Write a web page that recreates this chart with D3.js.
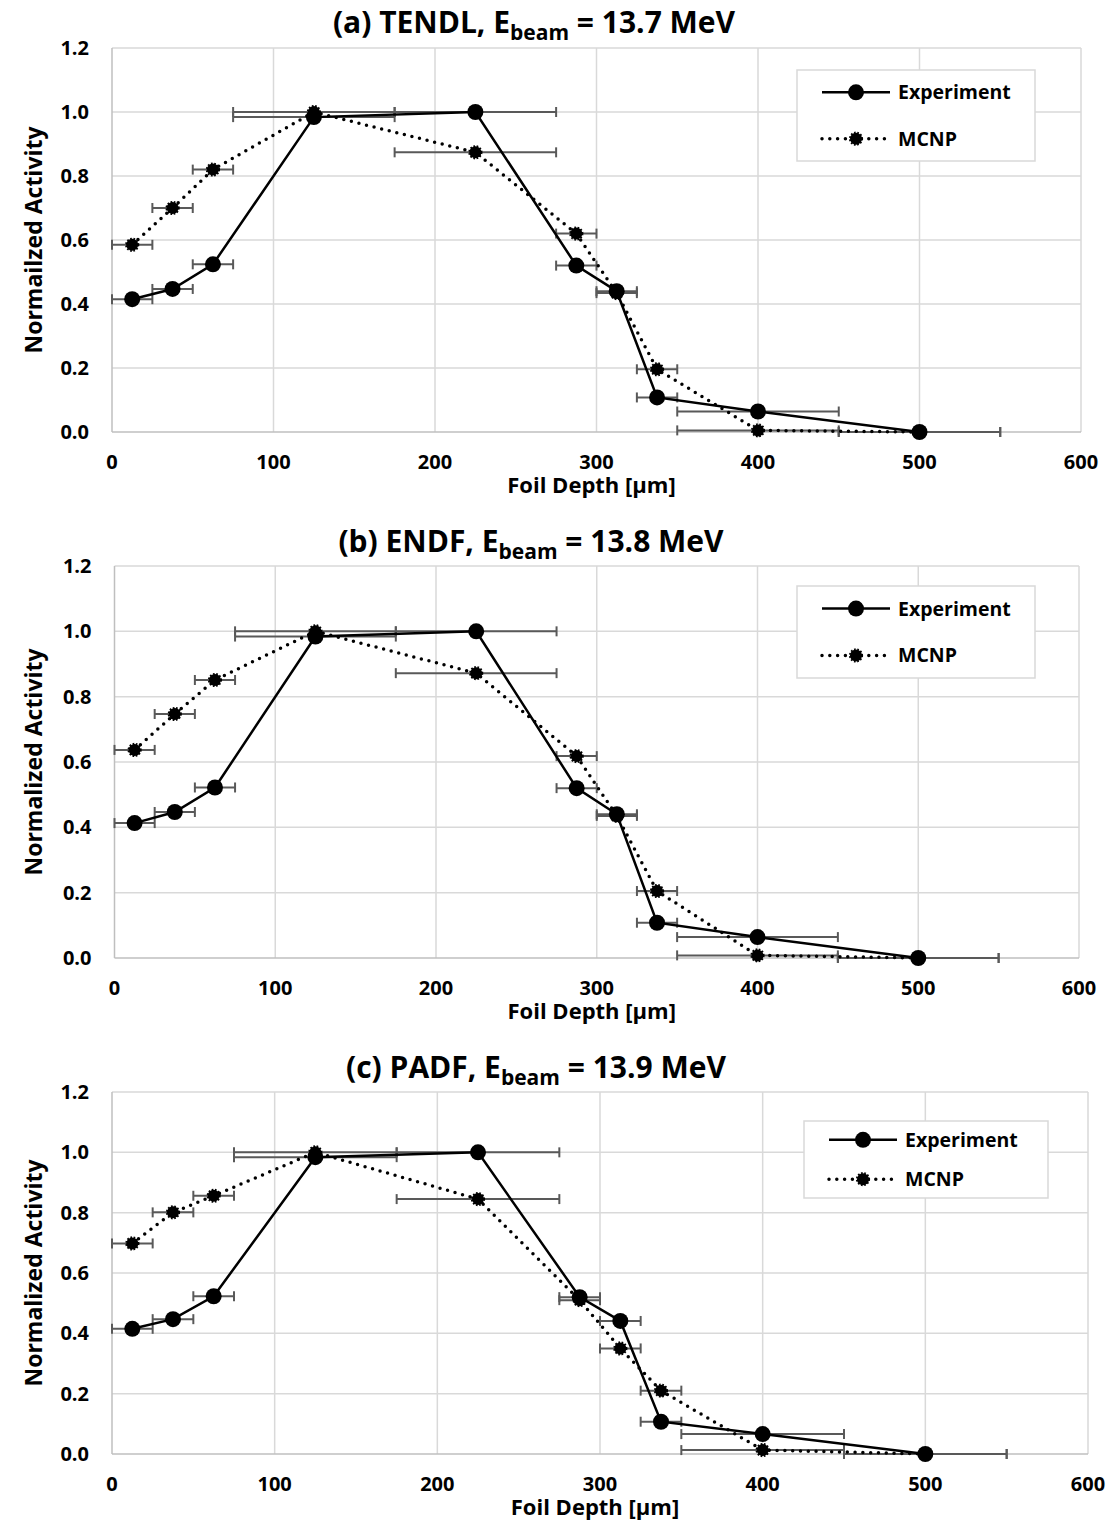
<!DOCTYPE html>
<html><head><meta charset="utf-8">
<script src="https://cdn.jsdelivr.net/npm/d3@7"></script>
<style>body{margin:0;background:#fff;} text{font-family:"Open Sans",sans-serif;font-weight:bold;fill:#000;}</style>
</head><body>
<svg id="c" width="1107" height="1521"></svg>
<script>
// ---- data ----
const depth = [12.5, 37.5, 62.5, 125, 225, 287.5, 312.5, 337.5, 400, 500];
const depthErr = [12.5, 12.5, 12.5, 50, 50, 12.5, 12.5, 12.5, 50, 50];
const expA  = [0.415, 0.447, 0.524, 0.984, 1.0, 0.520, 0.440, 0.108, 0.064, 0.0];
const mcnpA = [0.585, 0.700, 0.820, 1.0, 0.874, 0.620, 0.434, 0.196, 0.005, 0.0];
const expB  = [0.413, 0.447, 0.522, 0.984, 1.0, 0.520, 0.440, 0.108, 0.064, 0.0];
const mcnpB = [0.637, 0.747, 0.851, 1.0, 0.872, 0.618, 0.435, 0.205, 0.008, 0.0];
const expC  = [0.415, 0.447, 0.523, 0.984, 1.0, 0.520, 0.441, 0.107, 0.066, 0.0];
const mcnpC = [0.698, 0.801, 0.856, 1.0, 0.845, 0.510, 0.350, 0.210, 0.013, 0.0];
const xTicks = [0, 100, 200, 300, 400, 500, 600];
const yTicks = [0, 0.2, 0.4, 0.6, 0.8, 1.0, 1.2];
const titlePre = ["(a) TENDL, E", "(b) ENDF, E", "(c) PADF, E"];
const titleSub = "beam";
const titlePost = [" = 13.7 MeV", " = 13.8 MeV", " = 13.9 MeV"];
const yTitles = ["Normailzed Activity", "Normalized Activity", "Normalized Activity"];
const xTitle = "Foil Depth [µm]";
const seriesNames = ["Experiment", "MCNP"];

// ---- layout ----
const panels = [
  {exp: expA, mcnp: mcnpA, x0: 112, x1: 1081, yTop: 48, yBot: 432, titleX: 534, titleY: 33,
   legend: {x: 797, y: 70, w: 238, h: 91}},
  {exp: expB, mcnp: mcnpB, x0: 114.5, x1: 1079, yTop: 566, yBot: 958, titleX: 531, titleY: 552,
   legend: {x: 797, y: 586, w: 238, h: 92}},
  {exp: expC, mcnp: mcnpC, x0: 112, x1: 1088, yTop: 1092, yBot: 1454, titleX: 536, titleY: 1078,
   legend: {x: 804, y: 1121, w: 244, h: 77}}
];

const svg = d3.select("#c");
const gridCol = "#d9d9d9", axisCol = "#bfbfbf", errCol = "#595959";

function mcnpMarker(sel, r) {
  sel.attr("r", r).attr("fill", "#000").attr("stroke", "#000")
    .attr("stroke-width", 2.2).attr("stroke-dasharray", "1.6,1.6");
}

panels.forEach((p, i) => {
  const g = svg.append("g");
  const x = d3.scaleLinear().domain([0, 600]).range([p.x0, p.x1]);
  const y = d3.scaleLinear().domain([0, 1.2]).range([p.yBot, p.yTop]);

  // grid
  g.selectAll(".vg").data(xTicks.slice(1)).join("line")
    .attr("x1", d => x(d)).attr("x2", d => x(d)).attr("y1", y(0)).attr("y2", y(1.2))
    .attr("stroke", gridCol).attr("stroke-width", 1.5);
  g.selectAll(".hg").data(yTicks.slice(1)).join("line")
    .attr("x1", x(0)).attr("x2", x(600)).attr("y1", d => y(d)).attr("y2", d => y(d))
    .attr("stroke", gridCol).attr("stroke-width", 1.5);
  // axes lines
  g.append("line").attr("x1", x(0)).attr("x2", x(0)).attr("y1", y(0)).attr("y2", y(1.2))
    .attr("stroke", axisCol).attr("stroke-width", 1.5);
  g.append("line").attr("x1", x(0)).attr("x2", x(600)).attr("y1", y(0)).attr("y2", y(0))
    .attr("stroke", axisCol).attr("stroke-width", 1.5);

  // tick labels
  g.selectAll(".yl").data(yTicks).join("text")
    .attr("x", p.x0 - 23).attr("y", d => y(d) + 7)
    .attr("text-anchor", "end").attr("font-size", 20).text(d => d3.format(".1f")(d));
  g.selectAll(".xl").data(xTicks).join("text")
    .attr("x", d => x(d)).attr("y", p.yBot + 37)
    .attr("text-anchor", "middle").attr("font-size", 20).text(d => d);

  // axis titles
  g.append("text").attr("transform", `translate(42,${(p.yTop + p.yBot) / 2}) rotate(-90)`)
    .attr("text-anchor", "middle").attr("font-size", 23).text(yTitles[i]);
  g.append("text").attr("x", (p.x0 + p.x1) / 2 - 5).attr("y", p.yBot + 61)
    .attr("text-anchor", "middle").attr("font-size", 22).text(xTitle);

  // title
  const t = g.append("text").attr("x", p.titleX).attr("y", p.titleY)
    .attr("text-anchor", "middle").attr("font-size", 30);
  t.append("tspan").text(titlePre[i]);
  t.append("tspan").attr("font-size", 21).attr("dy", 7).text(titleSub);
  t.append("tspan").attr("dy", -7).text(titlePost[i]);

  // error bars
  const drawErr = (vals) => {
    const eg = g.append("g").attr("stroke", errCol).attr("stroke-width", 2);
    vals.forEach((v, k) => {
      const xl = x(depth[k] - depthErr[k]), xr = x(depth[k] + depthErr[k]), yy = y(v);
      eg.append("line").attr("x1", xl).attr("x2", xr).attr("y1", yy).attr("y2", yy);
      eg.append("line").attr("x1", xl).attr("x2", xl).attr("y1", yy - 5).attr("y2", yy + 5);
      eg.append("line").attr("x1", xr).attr("x2", xr).attr("y1", yy - 5).attr("y2", yy + 5);
    });
  };
  drawErr(p.exp);
  drawErr(p.mcnp);

  const line = d3.line().x((d, k) => x(depth[k])).y(d => y(d));
  // experiment
  g.append("path").datum(p.exp).attr("d", line).attr("fill", "none")
    .attr("stroke", "#000").attr("stroke-width", 2.5);
  g.selectAll(".em").data(p.exp).join("circle")
    .attr("cx", (d, k) => x(depth[k])).attr("cy", d => y(d)).attr("r", 8).attr("fill", "#000");
  // mcnp
  g.append("path").datum(p.mcnp).attr("d", line).attr("fill", "none")
    .attr("stroke", "#000").attr("stroke-width", 3.5).attr("stroke-linecap", "round")
    .attr("stroke-dasharray", "0,7.8");
  g.selectAll(".mm").data(p.mcnp).join("circle")
    .attr("cx", (d, k) => x(depth[k])).attr("cy", d => y(d)).call(mcnpMarker, 6);

  // legend
  const L = p.legend;
  const lg = g.append("g");
  lg.append("rect").attr("x", L.x).attr("y", L.y).attr("width", L.w).attr("height", L.h)
    .attr("fill", "#fff").attr("stroke", gridCol).attr("stroke-width", 1.5);
  const rowY = [L.y + L.h * 0.245, L.y + L.h * 0.755];
  const lx0 = L.x + 25, lx1 = L.x + 93, lm = (lx0 + lx1) / 2;
  lg.append("line").attr("x1", lx0).attr("x2", lx1).attr("y1", rowY[0]).attr("y2", rowY[0])
    .attr("stroke", "#000").attr("stroke-width", 2.5);
  lg.append("circle").attr("cx", lm).attr("cy", rowY[0]).attr("r", 8).attr("fill", "#000");
  lg.append("line").attr("x1", lx0).attr("x2", lx1).attr("y1", rowY[1]).attr("y2", rowY[1])
    .attr("stroke", "#000").attr("stroke-width", 3.5).attr("stroke-linecap", "round")
    .attr("stroke-dasharray", "0,7.8");
  lg.append("circle").attr("cx", lm).attr("cy", rowY[1]).call(mcnpMarker, 6);
  seriesNames.forEach((s, k) => {
    lg.append("text").attr("x", lx1 + 8).attr("y", rowY[k] + 7)
      .attr("font-size", 19.5).text(s);
  });
});
</script>
</body></html>
